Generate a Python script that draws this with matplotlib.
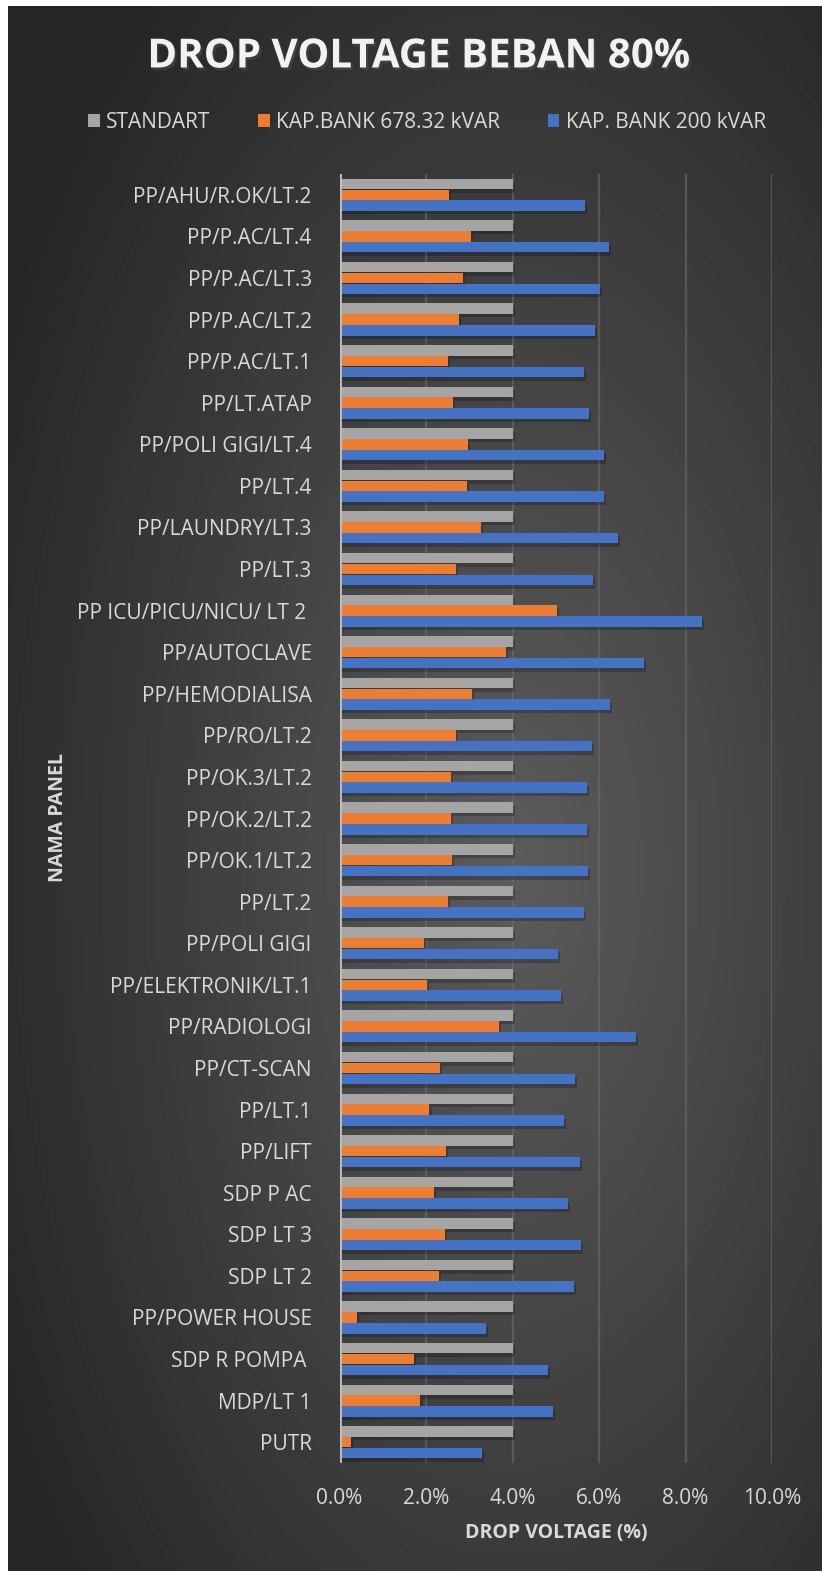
import matplotlib.pyplot as plt
import matplotlib.patheffects as pe
import numpy as np
from matplotlib.ticker import PercentFormatter

plt.rcParams['font.family'] = ['Open Sans', 'DejaVu Sans']

# panels, top to bottom as in the chart
panels = ['PP/AHU/R.OK/LT.2', 'PP/P.AC/LT.4', 'PP/P.AC/LT.3', 'PP/P.AC/LT.2',
          'PP/P.AC/LT.1', 'PP/LT.ATAP', 'PP/POLI GIGI/LT.4', 'PP/LT.4',
          'PP/LAUNDRY/LT.3', 'PP/LT.3', 'PP ICU/PICU/NICU/ LT 2 ', 'PP/AUTOCLAVE',
          'PP/HEMODIALISA', 'PP/RO/LT.2', 'PP/OK.3/LT.2', 'PP/OK.2/LT.2',
          'PP/OK.1/LT.2', 'PP/LT.2', 'PP/POLI GIGI', 'PP/ELEKTRONIK/LT.1',
          'PP/RADIOLOGI', 'PP/CT-SCAN', 'PP/LT.1', 'PP/LIFT', 'SDP P AC',
          'SDP LT 3', 'SDP LT 2', 'PP/POWER HOUSE', 'SDP R POMPA ', 'MDP/LT 1', 'PUTR']

standart = [4.0] * len(panels)
kapbank_678 = [2.53, 3.04, 2.86, 2.76, 2.51, 2.63, 2.97, 2.95, 3.27, 2.70, 5.03,
               3.84, 3.06, 2.70, 2.58, 2.58, 2.60, 2.51, 1.96, 2.03, 3.68, 2.33,
               2.08, 2.47, 2.19, 2.44, 2.31, 0.40, 1.73, 1.85, 0.26]
kapbank_200 = [5.68, 6.23, 6.02, 5.91, 5.65, 5.77, 6.11, 6.11, 6.43, 5.86, 8.38,
               7.05, 6.25, 5.84, 5.72, 5.72, 5.75, 5.65, 5.06, 5.13, 6.85, 5.45,
               5.18, 5.57, 5.29, 5.59, 5.43, 3.38, 4.83, 4.94, 3.29]

series_names = ['STANDART', 'KAP.BANK 678.32 kVAR', 'KAP. BANK 200 kVAR']
colors = ['#A5A5A5', '#ED7D31', '#4472C4']

W, H = 822, 1571
fig = plt.figure(figsize=(W / 100, H / 100), dpi=100)
fig.patch.set_facecolor('white')

# dark radial-gradient background (white strip top/left like the original)
bg = fig.add_axes([8 / W, 0, 1 - 8 / W, 1 - 6 / H])
bg.set_axis_off()
yy, xx = np.mgrid[0:1:400j, 0:1:220j]
r = np.sqrt(((xx - 0.62) / 0.75) ** 2 + ((yy - 0.45) / 0.75) ** 2)
shade = np.clip(0.36 - 0.22 * r, 0.15, 0.37)
bg.imshow(shade, cmap='gray', vmin=0, vmax=1, aspect='auto',
          extent=[0, 1, 0, 1], origin='lower')
bg.set_xlim(0, 1)
bg.set_ylim(0, 1)

left, right = 339.5 / W, 772 / W
top, bottom = 174 / H, 1463 / H
ax = fig.add_axes([left, 1 - bottom, right - left, bottom - top])
ax.patch.set_alpha(0)

y = np.arange(len(panels))[::-1]
h = 0.26
shadow = [pe.SimplePatchShadow(offset=(1.5, -2.5), shadow_rgbFace='black', alpha=0.22), pe.Normal()]
for i, (vals, c) in enumerate(zip([standart, kapbank_678, kapbank_200], colors)):
    bars = ax.barh(y + (1 - i) * h, vals, height=h * 0.97, color=c,
                   label=series_names[i], zorder=3)
    for b in bars:
        b.set_path_effects(shadow)

ax.set_xlim(0, 10)
ax.set_ylim(-0.5, len(panels) - 0.5)
ax.set_xticks(np.arange(0, 10.1, 2))
ax.xaxis.set_major_formatter(PercentFormatter(decimals=1))
ax.set_yticks(y)
ax.set_yticklabels(panels)
ax.tick_params(axis='both', length=0, colors='#D9D9D9', labelsize=15)
ax.tick_params(axis='y', pad=20)
ax.tick_params(axis='x', pad=18)
ax.grid(axis='x', color='#6A6A6A', linewidth=1.6, alpha=0.6, zorder=0)
for s in ax.spines.values():
    s.set_visible(False)
ax.axvline(0, color='#BFBFBF', linewidth=2, zorder=4)

ax.set_xlabel('DROP VOLTAGE (%)', color='#D9D9D9', fontsize=14, fontweight='bold', labelpad=10)
fig.text(58 / W, 1 - 818 / H, 'NAMA PANEL', rotation=90, color='#D9D9D9',
         fontsize=14, fontweight='bold', ha='center', va='center')

fig.text(419 / W, 1 - 57 / H, 'DROP VOLTAGE BEBAN 80%', color='#F2F2F2',
         fontsize=29, fontweight='bold', ha='center', va='center',
         path_effects=[pe.withSimplePatchShadow(offset=(1.5, -2), alpha=0.6)])

leg = fig.legend(loc='center', bbox_to_anchor=(427 / W, 1 - 122 / H), ncol=3,
                 frameon=False, fontsize=15, handlelength=0.55, handleheight=0.6,
                 handletextpad=0.3, columnspacing=2.3, labelcolor='#D9D9D9')
for hnd in leg.legend_handles:
    hnd.set_path_effects([])

fig.savefig('out.png', dpi=100, facecolor=fig.get_facecolor())
